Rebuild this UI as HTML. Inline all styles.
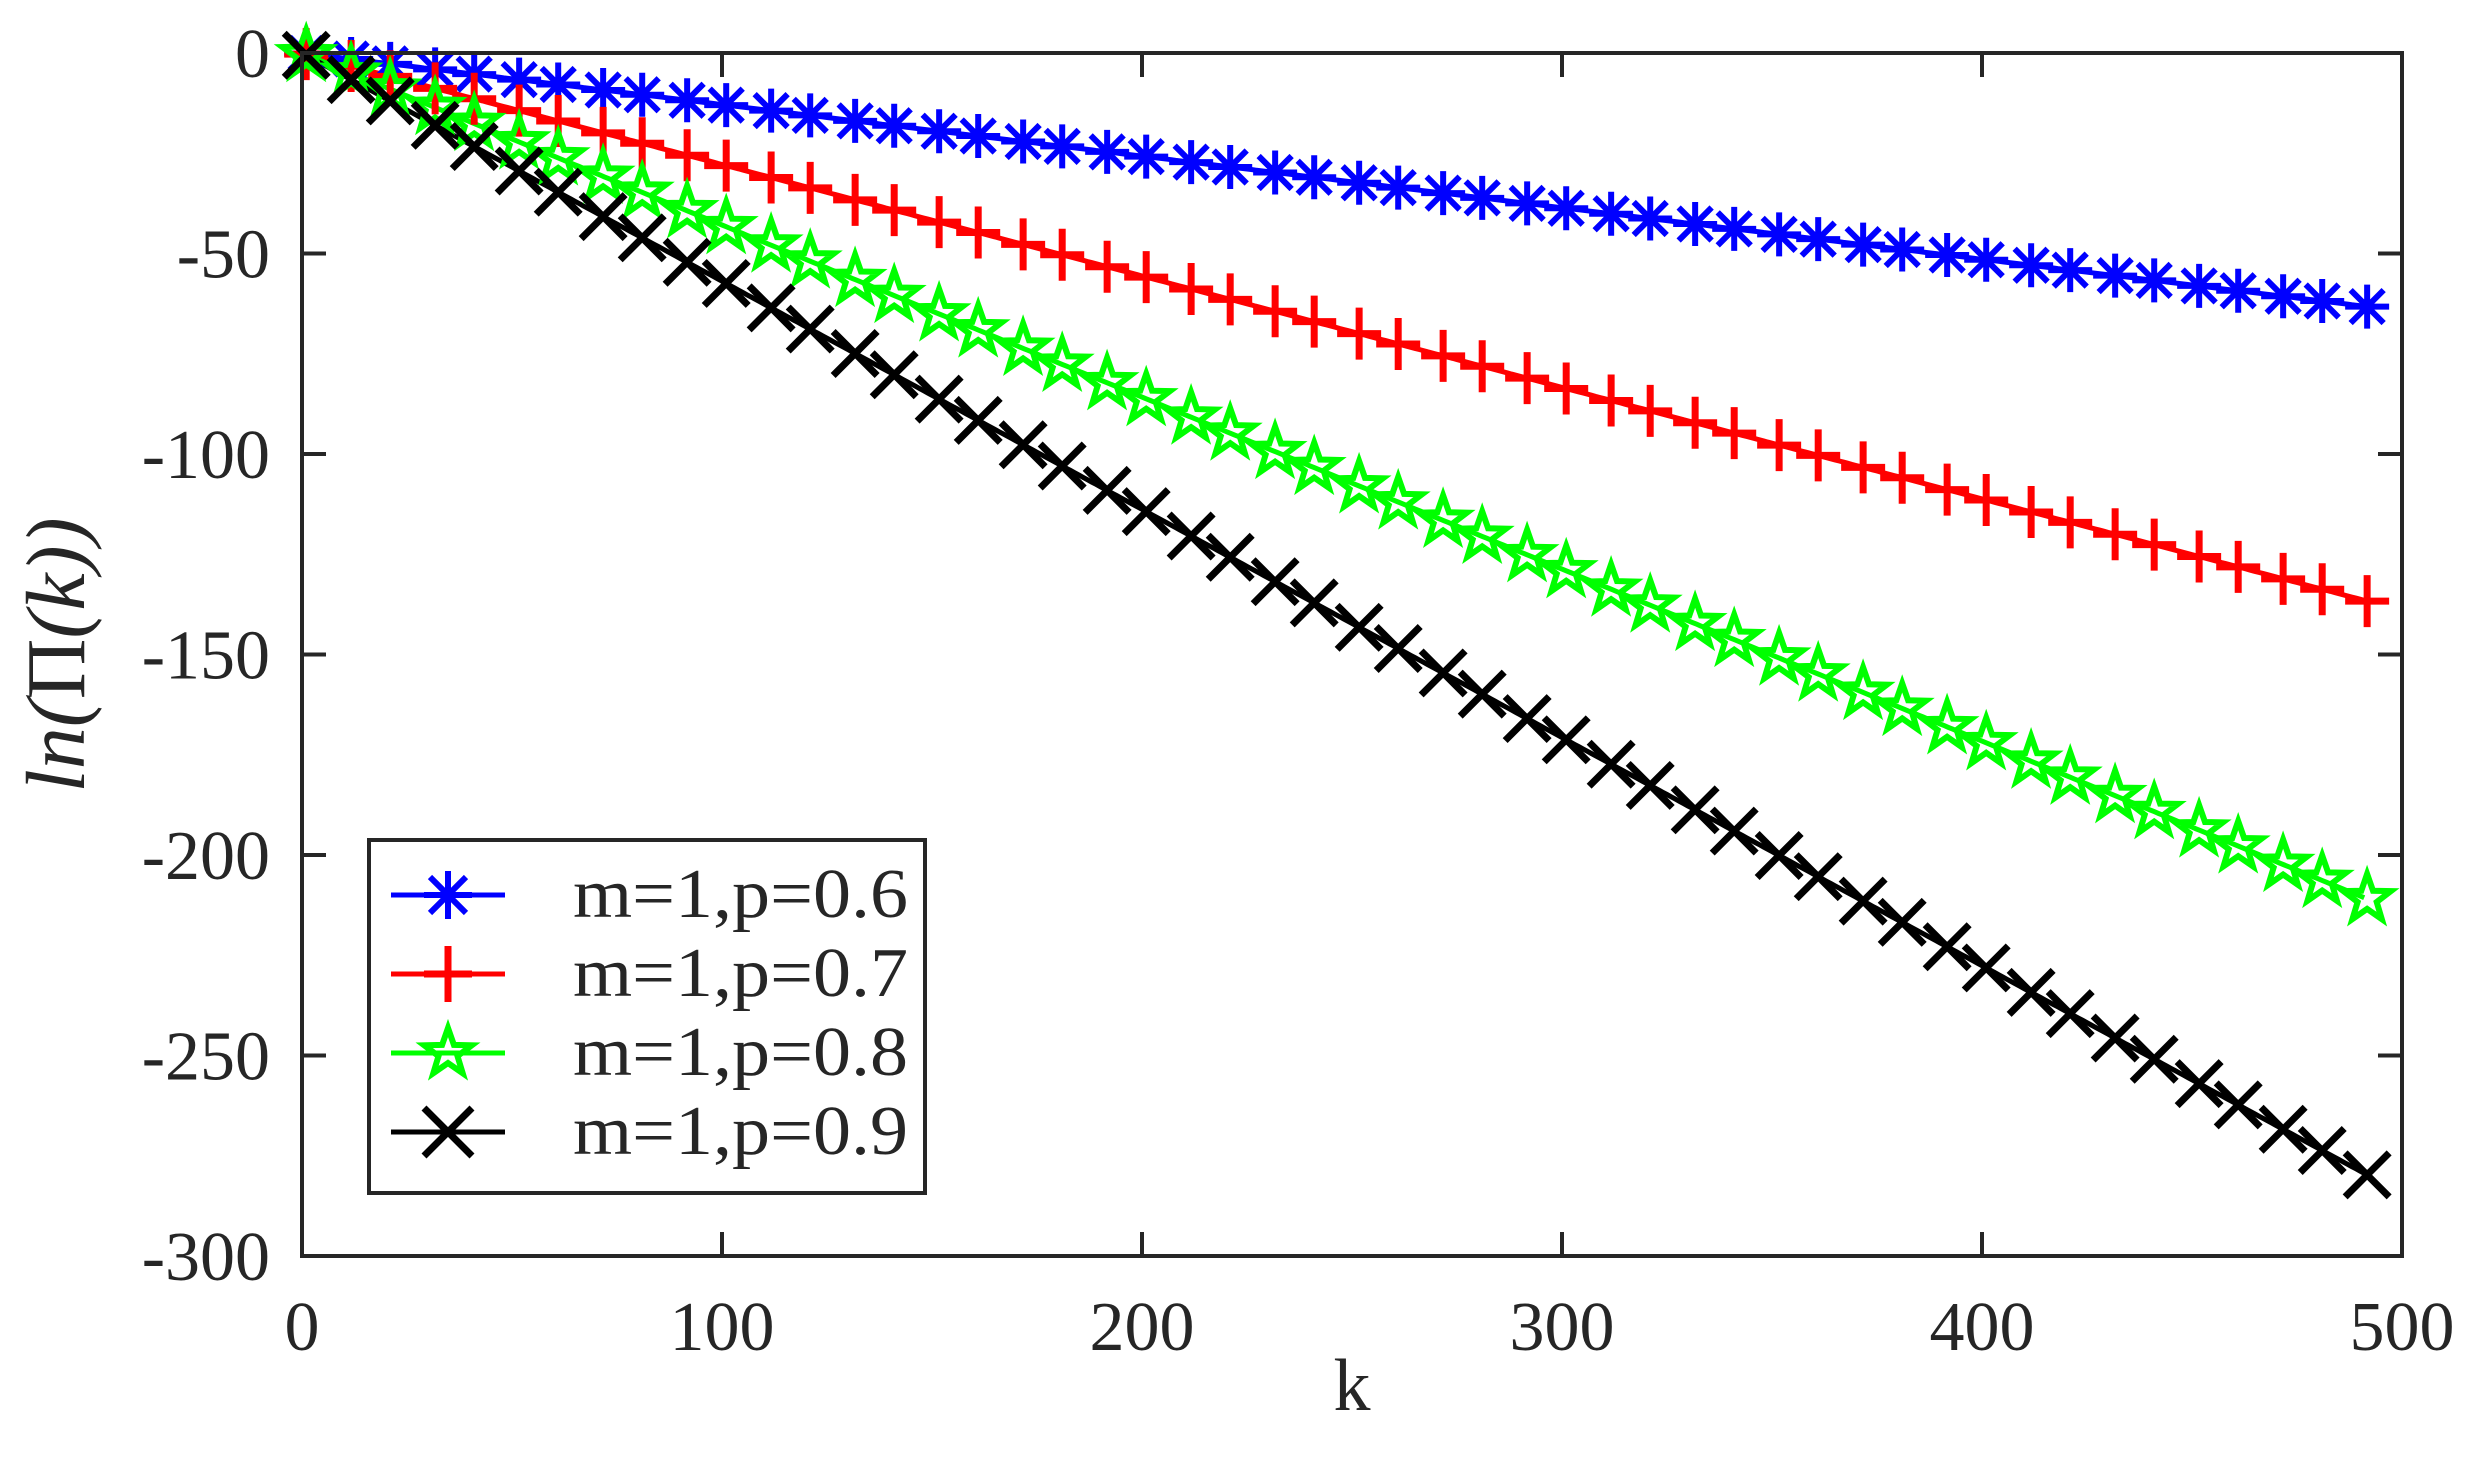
<!DOCTYPE html>
<html><head><meta charset="utf-8"><style>
html,body{margin:0;padding:0;background:#fff;}
svg{display:block;}
text{font-family:"Liberation Serif",serif;fill:#262626;}
</style></head><body>
<svg id="s" width="2472" height="1473" viewBox="0 0 2472 1473" xmlns="http://www.w3.org/2000/svg">
<rect width="2472" height="1473" fill="#fff"/>
<g id="plot"></g>
<g id="axes" stroke="#262626" stroke-width="4" fill="none">
<rect x="302" y="53" width="2100" height="1203"/>
</g>
<g id="ticks" stroke="#262626" stroke-width="4"></g>
<g id="labels" font-size="70"></g>
<text x="1352" y="1410" font-size="74" text-anchor="middle">k</text>
<text transform="translate(84,655) rotate(-90)" font-size="84" text-anchor="middle" font-style="italic">ln(<tspan font-style="normal">Π</tspan>(k))</text>
<rect x="369" y="840" width="556" height="353" fill="#fff" stroke="#262626" stroke-width="4"/>
<g id="legend"></g>
</svg>
<script>
const NS="http://www.w3.org/2000/svg";
const X=k=>302+4.2*k, Y=v=>53-4.01*v;
function el(t,a,p){const e=document.createElementNS(NS,t);for(const k in a)e.setAttribute(k,a[k]);p.appendChild(e);return e;}
const ticks=document.getElementById('ticks'),labels=document.getElementById('labels');
for(let i=0;i<=5;i++){const x=X(i*100);
 if(i>0&&i<5){el('line',{x1:x,y1:1256,x2:x,y2:1232},ticks);el('line',{x1:x,y1:53,x2:x,y2:77},ticks);}
 const t=el('text',{x:x,y:1350,'text-anchor':'middle'},labels);t.textContent=i*100;}
for(let i=0;i<=6;i++){const y=Y(-50*i);
 if(i>0&&i<6){el('line',{x1:302,y1:y,x2:326,y2:y},ticks);el('line',{x1:2402,y1:y,x2:2378,y2:y},ticks);}
 const t=el('text',{x:270,y:y+24,'text-anchor':'end'},labels);t.textContent=i==0?'0':'-'+(50*i);}
const series=[{c:'#0000ff',s:-0.1286,m:'ast'},{c:'#ff0000',s:-0.278,m:'plus'},{c:'#00ff00',s:-0.429,m:'star'},{c:'#000000',s:-0.569,m:'x'}];
function marker(g,type,cx,cy,c,big){
 const r=big?24:22;
 if(type=='plus'){el('path',{d:`M${cx-r} ${cy}H${cx+r}M${cx} ${cy-r-4}V${cy+r+4}`,stroke:c,'stroke-width':7,fill:'none'},g);}
 else if(type=='x'){const q=r;el('path',{d:`M${cx-q} ${cy-q}L${cx+q} ${cy+q}M${cx-q} ${cy+q}L${cx+q} ${cy-q}`,stroke:c,'stroke-width':7,fill:'none'},g);}
 else if(type=='ast'){const q=r*0.75;el('path',{d:`M${cx} ${cy-r}V${cy+r}M${cx-r} ${cy}H${cx+r}M${cx-q} ${cy-q}L${cx+q} ${cy+q}M${cx-q} ${cy+q}L${cx+q} ${cy-q}`,stroke:c,'stroke-width':6,fill:'none'},g);}
 else {let p='';const R=25,ri=10;for(let i=0;i<10;i++){const a=-Math.PI/2+i*Math.PI/5,rr=i%2?ri:R;p+=(i?'L':'M')+(cx+rr*Math.cos(a)).toFixed(1)+' '+(cy+rr*Math.sin(a)).toFixed(1);}
  el('path',{d:p+'Z',stroke:c,'stroke-width':6,fill:'none','stroke-linejoin':'miter'},g);}
}
const plot=document.getElementById('plot');
series.forEach(sr=>{
 let pts=[];for(let k=1;k<=491;k+=1){pts.push(X(k).toFixed(1)+','+Y(sr.s*k).toFixed(1));}
 el('polyline',{points:pts.join(' '),fill:'none',stroke:sr.c,'stroke-width':5},plot);
});
series.forEach(sr=>{
 for(let i=0;i<=49;i++){const k=1+10*i+(i%2?0.7:0);marker(plot,sr.m,X(k),Y(sr.s*k),sr.c);}
});
const lg=document.getElementById('legend');
const labs=['m=1,p=0.6','m=1,p=0.7','m=1,p=0.8','m=1,p=0.9'];
const ly=[895,974,1053,1132];
series.forEach((sr,i)=>{
 el('line',{x1:391,y1:ly[i],x2:505,y2:ly[i],stroke:sr.c,'stroke-width':5},lg);
 marker(lg,sr.m,448,ly[i],sr.c,true);
 const t=el('text',{x:573,y:ly[i]+22,'font-size':70,textLength:335,lengthAdjust:'spacingAndGlyphs'},lg);t.textContent=labs[i];
});
</script>
</body></html>
